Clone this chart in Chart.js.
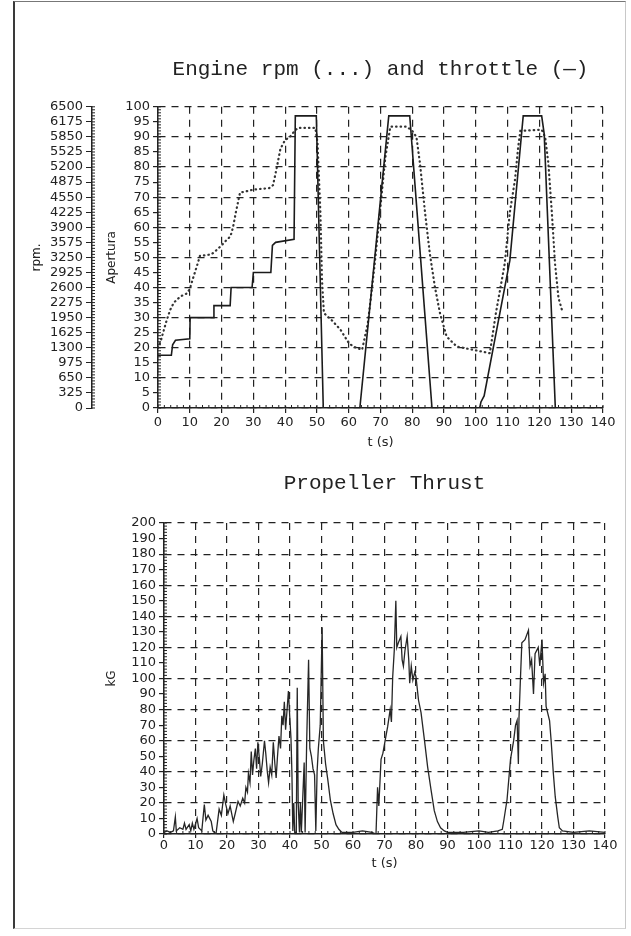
<!DOCTYPE html>
<html>
<head>
<meta charset="utf-8">
<script src="https://cdn.jsdelivr.net/npm/chart.js"></script>
<style>
  html, body { margin: 0; padding: 0; background: #fff; }
  body { width: 631px; height: 936px; position: relative; overflow: hidden; }
  .frame {
    position: absolute; left: 13px; top: 1px; width: 610px; height: 926px;
    border-left: 2px solid #3a3a3a; border-top: 1px solid #777;
    border-right: 1px solid #c8c8c8; border-bottom: 1px solid #d4d4d4;
  }
  .box { position: absolute; left: 0; width: 631px; }
  #top-box { top: 0; height: 460px; }
  #bottom-box { top: 460px; height: 440px; }
</style>
</head>
<body>
<div class="frame"></div>
<div class="box" id="top-box"><canvas id="chart-engine"></canvas></div>
<div class="box" id="bottom-box"><canvas id="chart-thrust"></canvas></div>
<script>
// throttle opening (%) vs time (s)
var throttleT = [0, 4.2, 4.6, 5.5, 10, 10.1, 17.4, 17.6, 22.7, 23, 29.6, 30, 35.5, 36, 37, 42.8, 43.2, 49.8, 52,
  63.5, 68.2, 72.6, 79.2, 86.2, 101.2, 101.6, 102.6, 110.7, 114.9, 120.7, 121.5, 125, 140];
var throttlePct = [17.5, 17.5, 21, 22.5, 23, 30, 30, 34, 34, 40, 40, 45, 45, 54, 55, 56, 97, 97, 0,
  0, 50, 97, 97, 0, 0, 2, 4, 49, 97, 97, 91, 0, 0];

// engine speed (rpm) vs time (s)
var rpmT = [0, 0.8, 1.6, 2.7, 3.8, 5, 7, 9, 10, 11, 12.2, 13.2, 16.8, 18.5, 20, 21.6, 22.8, 23.6, 24.5, 25.8,
  28, 30, 33, 35, 36.2, 37.4, 38.5, 40, 41.5, 43, 44, 49.5, 50.2, 51.1, 51.6, 52.2, 54.8, 57.4, 60, 61.6, 64.2,
  66, 68, 69.8, 71.5, 73.1, 78.3, 80, 81.3, 82.4, 84, 85.5, 87.1, 88.7, 90.8, 94, 99.2, 104.4, 106.3,
  109.1, 110.7, 112.3, 113.3, 114, 120.7, 121.8, 122.8, 123.9, 124.9, 126, 127.1];
var rpmVal = [1300, 1430, 1625, 1885, 2113, 2275, 2405, 2470, 2568, 2795, 3055, 3283, 3315, 3413, 3510, 3627,
  3705, 3900, 4225, 4648, 4680, 4713, 4732, 4745, 4810, 5200, 5590, 5785, 5850, 5980, 6045, 6045, 5720, 4206,
  2763, 2048, 1885, 1690, 1404, 1320, 1255, 1820, 2990, 4212, 5400, 6071, 6071, 5980, 5850, 5291, 4225, 3341,
  2620, 2048, 1541, 1326, 1255, 1183, 2048, 3120, 4225, 4920, 5622, 5980, 6006, 5850, 5291, 4225, 3120, 2373, 2113];

// propeller thrust (kG) vs time (s)
var thrustT = [0, 1, 2, 3, 3.6, 3.9, 5, 6, 6.5, 7, 8, 8.5, 9, 9.5, 10.5, 11, 12, 12.8, 13.3, 14, 15, 15.5, 16.5,
  17.5, 18.2, 19, 19.6, 20.3, 21, 22, 22.7, 23.5, 24.2, 25, 25.6, 26, 26.5, 26.8, 27.3, 27.7, 28.1, 28.5, 29,
  29.4, 29.8, 30.3, 30.7, 31.2, 31.9, 32.3, 32.8, 33.2, 33.7, 34.2, 34.7, 35.2, 35.6, 36, 36.5, 37, 37.4, 37.8,
  38.2, 38.6, 39, 39.5, 39.9, 40.3, 40.6, 40.9, 41.2, 41.5, 42, 42.3, 42.6, 43, 43.3, 43.6, 44.5, 44.8, 45.3,
  45.9, 46.3, 46.8, 47.3, 47.8, 48.2, 48.6, 49, 49.6, 50.2, 50.6, 51.3, 52, 52.8, 53.7, 54.6, 55.5, 56.5, 60,
  63, 66, 67.3, 67.8, 68.2, 68.9, 69.5, 70.2, 71, 71.8, 72.2, 72.6, 73.1, 73.6, 73.9, 74.4, 75.2, 75.6, 76,
  76.5, 77.2, 77.7, 78, 78.5, 79, 79.6, 80, 80.8, 81.6, 82.7, 83.7, 84.8, 85.8, 86.8, 87.8, 89, 90, 95, 100,
  103, 106, 107.4, 107.9, 108.9, 110, 111, 111.6, 112.1, 112.5, 112.7, 113.1, 113.6, 114.6, 115.7, 116.2,
  116.7, 117.3, 117.8, 118.8, 119.3, 120, 120.5, 121, 121.3, 122.4, 122.9, 123.6, 124.2, 125, 125.5, 126.5,
  130, 135, 140];
var thrustKg = [1, 2, 1, 2, 11, 2, 4, 3, 7, 3, 6, 2, 7, 3, 10, 4, 2, 19, 9, 12, 8, 2, 0,
  16, 12, 25, 19, 13, 18, 8, 14, 21, 18, 23, 20, 30, 27, 39, 33, 53, 38, 47, 55,
  42, 59, 48, 37, 45, 60, 52, 40, 33, 43, 38, 59, 45, 36, 49, 63, 55, 76, 70,
  85, 67, 78, 92, 76, 62, 40, 2, 20, 1, 1, 94, 20, 1, 20, 1, 46, 1, 60,
  112, 55, 50, 42, 38, 2, 40, 55, 70, 133, 60, 45, 35, 22, 13, 6, 3, 1, 1,
  2, 1, 0, 30, 18, 48, 52, 60, 69, 80, 72, 101, 118, 150, 120, 123, 127, 112, 108,
  118, 127, 112, 97, 108, 99, 104, 101, 86, 78, 60, 43, 28, 15, 8, 4, 2, 1, 1, 2,
  1, 2, 3, 9, 22, 48, 60, 70, 73, 45, 75, 97, 123, 125, 131, 108,
  112, 90, 116, 120, 108, 125, 97, 103, 82, 73, 60, 39, 24, 11, 4, 2,
  1, 2, 1];

var xTicks = { min: 0, max: 140, step: 10 };

(function () {
  Chart.defaults.font.family = "'DejaVu Sans', sans-serif";
  Chart.defaults.font.size = 13;
  Chart.defaults.color = "#222";
  Chart.defaults.animation = false;

  var ink = "#222";
  var clear = "rgba(0,0,0,0)";
  var dash = [7, 6];
  var titleFont = { family: "'Liberation Mono', monospace", size: 21, weight: "normal" };

  function pts(xs, ys) {
    return xs.map(function (x, i) { return { x: x, y: ys[i] }; });
  }

  function plain(v) {
    return String(v);
  }

  function gridEvery(n) {
    return function (c) {
      return c.tick && c.tick.value % n === 0 ? ink : clear;
    };
  }

  // small inward ticks between the labelled ones
  var minorTicks = {
    id: "minorTicks",
    afterDraw: function (chart, args, opts) {
      var ctx = chart.ctx;
      ctx.save();
      ctx.strokeStyle = ink;
      ctx.lineWidth = 1;
      (opts.marks || []).forEach(function (m) {
        var s = chart.scales[m.id];
        var n = Math.round((s.max - s.min) / m.step);
        ctx.beginPath();
        for (var i = 0; i <= n; i++) {
          var p = s.getPixelForValue(s.min + i * m.step);
          if (s.isHorizontal()) {
            ctx.moveTo(p, s.top);
            ctx.lineTo(p, s.top - m.len);
          } else {
            ctx.moveTo(s.right, p);
            ctx.lineTo(s.right + m.len, p);
          }
        }
        ctx.stroke();
      });
      ctx.restore();
    },
  };

  function xAxis(tickLen, pad, titlePad, height) {
    return {
      type: "linear",
      min: xTicks.min,
      max: xTicks.max,
      ticks: { stepSize: xTicks.step, autoSkip: false, maxRotation: 0, padding: pad, callback: plain },
      grid: { color: ink, tickColor: ink, lineWidth: 1.2, tickLength: tickLen },
      border: { color: ink, width: 1.5, dash: dash },
      title: { display: true, text: "t (s)", font: { size: 13 }, padding: { top: 0, bottom: titlePad } },
      afterFit: function (s) { s.height = height; },
    };
  }

  new Chart(document.getElementById("chart-engine"), {
    type: "line",
    data: {
      datasets: [
        {
          label: "throttle",
          data: pts(throttleT, throttlePct),
          yAxisID: "y",
          borderColor: "#1b1b1b",
          borderWidth: 1.6,
          pointRadius: 0,
          tension: 0,
        },
        {
          label: "rpm",
          data: pts(rpmT, rpmVal),
          yAxisID: "y1",
          borderColor: "#333",
          borderWidth: 2.2,
          borderDash: [0.5, 4],
          borderCapStyle: "round",
          pointRadius: 0,
          tension: 0,
        },
      ],
    },
    options: {
      responsive: true,
      maintainAspectRatio: false,
      layout: { padding: { top: 57, left: 28, right: 28, bottom: 5 } },
      plugins: {
        legend: { display: false },
        tooltip: { enabled: false },
        title: {
          display: true,
          fullSize: false,
          text: "Engine rpm (...) and throttle (\u2014)",
          color: "#222",
          font: titleFont,
          padding: { top: 0, bottom: 24.6 },
        },
        minorTicks: {
          marks: [
            { id: "y", step: 1, len: 3 },
            { id: "y1", step: 65, len: 3 },
            { id: "x", step: 2, len: 3 },
          ],
        },
      },
      scales: {
        x: xAxis(5, 2, 5, 47),
        y: {
          position: "left",
          weight: 0,
          min: 0,
          max: 100,
          ticks: { stepSize: 5, autoSkip: false, padding: 3, callback: plain },
          grid: { color: gridEvery(10), tickColor: ink, lineWidth: 1.2, tickLength: 5 },
          border: { color: ink, width: 1.5, dash: dash },
          title: { display: true, text: "Apertura", font: { size: 12 }, padding: { top: 13, bottom: 0 } },
          afterFit: function (s) { s.width = 66; },
        },
        y1: {
          position: "left",
          weight: 1,
          min: 0,
          max: 6500,
          ticks: { stepSize: 325, autoSkip: false, padding: 3, callback: plain },
          grid: { drawOnChartArea: false, color: ink, tickLength: 6 },
          border: { color: ink, width: 1.5 },
          title: { display: true, text: "rpm.", font: { size: 12 }, padding: { top: 2, bottom: 0 } },
          afterFit: function (s) { s.width = 64; },
        },
      },
    },
    plugins: [minorTicks],
  });

  new Chart(document.getElementById("chart-thrust"), {
    type: "line",
    data: {
      datasets: [
        {
          label: "thrust",
          data: pts(thrustT, thrustKg),
          borderColor: "#262626",
          borderWidth: 1.3,
          pointRadius: 0,
          tension: 0,
        },
      ],
    },
    options: {
      responsive: true,
      maintainAspectRatio: false,
      layout: { padding: { top: 11, left: 95, right: 26, bottom: 19 } },
      plugins: {
        legend: { display: false },
        tooltip: { enabled: false },
        title: {
          display: true,
          fullSize: false,
          text: "Propeller Thrust",
          color: "#222",
          font: titleFont,
          padding: { top: 0, bottom: 26.8 },
        },
        minorTicks: {
          marks: [
            { id: "y", step: 2, len: 3 },
            { id: "x", step: 2, len: 3 },
          ],
        },
      },
      scales: {
        x: xAxis(4, 0, 10, 47),
        y: {
          position: "left",
          min: 0,
          max: 200,
          ticks: { stepSize: 10, autoSkip: false, padding: 3, callback: plain },
          grid: { color: gridEvery(20), tickColor: ink, lineWidth: 1.2, tickLength: 5 },
          border: { color: ink, width: 1.5, dash: dash },
          title: { display: true, text: "kG", font: { size: 12 }, padding: { top: 10, bottom: 0 } },
          afterFit: function (s) { s.width = 69; },
        },
      },
    },
    plugins: [minorTicks],
  });
})();
</script>
</body>
</html>
